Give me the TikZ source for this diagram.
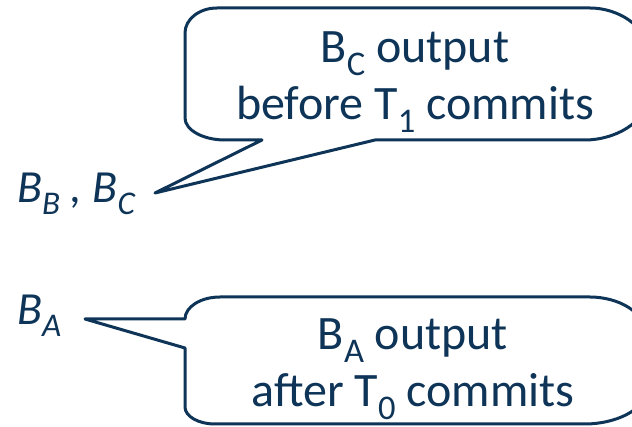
\documentclass[tikz,border=0pt]{standalone}
\usepackage{fontspec}
\usepackage{graphicx}
\setmainfont{Carlito}
\definecolor{navy}{RGB}{14,52,88}
\newcommand\sbs[1]{\raisebox{-0.26em}{\scalebox{0.72}{#1}}}
\tikzset{
  bubble/.style={draw=navy, line width=3pt, line join=round, fill=white},
  txt/.style={text=navy, inner sep=0pt, anchor=base, font=\fontsize{48}{56}\selectfont},
  lbl/.style={text=navy, inner sep=0pt, anchor=base west, font=\fontsize{46}{54}\selectfont\itshape}
}
\begin{document}
\begin{tikzpicture}[x=1pt,y=-1pt]
\useasboundingbox (0,0) rectangle (632,427);
\clip (0,0) rectangle (632,427);
\fill[white] (0,0) rectangle (632,427);
% pointer tips
\coordinate (tipC) at (155,193);
\coordinate (tipA) at (85,319);
% top bubble
\draw[bubble] (262,140) -- (tipC) -- (375,140) -- (585,140)
  .. controls (615,140) and (646,122) .. (646,100) -- (646,48)
  .. controls (646,26) and (618,8) .. (590,8) -- (217,8)
  .. controls (199.3,8) and (185,19.2) .. (185,33) -- (185,118)
  .. controls (185,130) and (203,140) .. (225,140) -- cycle;
% bottom bubble
\draw[bubble] (185,348) -- (tipA) -- (185,319)
  .. controls (185,306.9) and (200.7,297) .. (220,297) -- (590,297)
  .. controls (618,297) and (646,312) .. (646,335) -- (646,390)
  .. controls (646,410) and (615,424) .. (585,424) -- (215,424)
  .. controls (198.4,424) and (185,416.4) .. (185,407) -- cycle;
% texts
\node[txt] (c1) at (415,63) {B\sbs{C} output};
\node[txt] (c2) at (415,120) {before T\sbs{1} commits};
\node[txt] (a1) at (413,350) {B\sbs{A} output};
\node[txt] (a2) at (413,407) {after T\sbs{0} commits};
\node[lbl] (bbc) at (17,203) {B\sbs{B} , B\sbs{C}};
\node[lbl] (ba) at (17,325) {B\sbs{A}};
\end{tikzpicture}
\end{document}
